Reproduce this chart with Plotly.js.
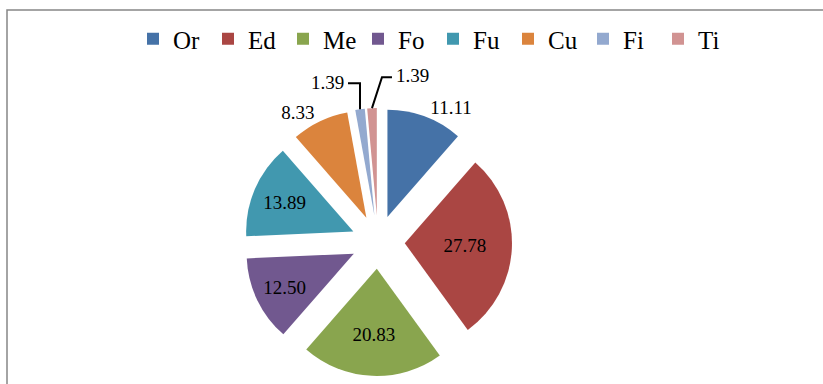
<!DOCTYPE html>
<html>
<head>
<meta charset="utf-8">
<script src="https://cdn.plot.ly/plotly-3.0.1.min.js"></script>
<style>
html,body{margin:0;padding:0;background:#fff;}
#chart{width:823px;height:384px;}
</style>
</head>
<body>
<div id="chart"></div>
<script>
var categories = ['Or', 'Ed', 'Me', 'Fo', 'Fu', 'Cu', 'Fi', 'Ti'];
var values = [11.11, 27.78, 20.83, 12.50, 13.89, 8.33, 1.39, 1.39];
var colors = ['#4572A7', '#AA4643', '#89A54E', '#71588F', '#4198AF', '#DB843D', '#93A9CF', '#D19392'];
var textPositions = ['outside', 'inside', 'inside', 'inside', 'inside', 'outside', 'none', 'none'];

var W = 823, H = 384;
var dom = {x0: 244, x1: 512, y0: 108, y1: 376};
var PULL = 0.25;
var FONT = 'Liberation Serif';
var LABEL_SIZE = 19;

var trace = {
  type: 'pie',
  labels: categories,
  values: values,
  sort: false,
  direction: 'clockwise',
  rotation: 0,
  pull: categories.map(function () { return PULL; }),
  marker: {colors: colors, line: {width: 0}},
  texttemplate: '%{value:.2f}',
  textposition: textPositions,
  insidetextorientation: 'horizontal',
  textfont: {family: FONT, size: LABEL_SIZE, color: '#000'},
  insidetextfont: {family: FONT, size: LABEL_SIZE, color: '#000'},
  outsidetextfont: {family: FONT, size: LABEL_SIZE, color: '#000'},
  hoverinfo: 'label+value',
  domain: {x: [dom.x0 / W, dom.x1 / W], y: [1 - dom.y1 / H, 1 - dom.y0 / H]}
};

// pie geometry (derived from the domain) to anchor the small-slice labels
var cx = (dom.x0 + dom.x1) / 2, cy = (dom.y0 + dom.y1) / 2;
var R = Math.min(dom.x1 - dom.x0, dom.y1 - dom.y0) / 2;
var total = values.reduce(function (a, b) { return a + b; }, 0);
function tip(i) {
  var before = 0;
  for (var k = 0; k < i; k++) before += values[k];
  var a = (before + values[i] / 2) / total * 2 * Math.PI;
  return {x: cx + R * Math.sin(a), y: cy - R * Math.cos(a)};
}
function px(x) { return x / W; }
function py(y) { return 1 - y / H; }

var iFi = categories.indexOf('Fi'), iTi = categories.indexOf('Ti');
var tFi = tip(iFi), tTi = tip(iTi);

var annotations = [
  {text: values[iFi].toFixed(2), x: px(tFi.x - 14), y: py(tFi.y - 27), xref: 'paper', yref: 'paper',
   xanchor: 'right', yanchor: 'middle', showarrow: false, font: {family: FONT, size: LABEL_SIZE, color: '#000'}},
  {text: values[iTi].toFixed(2), x: px(tTi.x + 22), y: py(tTi.y - 33), xref: 'paper', yref: 'paper',
   xanchor: 'left', yanchor: 'middle', showarrow: false, font: {family: FONT, size: LABEL_SIZE, color: '#000'}}
];

function path(pts) {
  return 'M' + pts.map(function (p) { return px(p[0]) + ',' + py(p[1]); }).join(' L');
}

var shapes = [
  {type: 'rect', xref: 'paper', yref: 'paper',
   x0: 7 / W, x1: 1.2, y0: -0.2, y1: 1 - 10 / H,
   line: {color: '#868686', width: 1.5}, fillcolor: 'rgba(0,0,0,0)'},
  {type: 'path', xref: 'paper', yref: 'paper',
   path: path([[tFi.x - 12, tFi.y - 26], [tFi.x, tFi.y - 26], [tFi.x, tFi.y]]),
   line: {color: '#000', width: 2}},
  {type: 'path', xref: 'paper', yref: 'paper',
   path: path([[tTi.x + 20, tTi.y - 31], [tTi.x + 10, tTi.y - 31], [tTi.x, tTi.y]]),
   line: {color: '#000', width: 2}}
];

var layout = {
  width: W,
  height: H,
  margin: {l: 0, r: 0, t: 0, b: 0},
  paper_bgcolor: '#fff',
  font: {family: FONT, color: '#000'},
  showlegend: true,
  legend: {
    orientation: 'h',
    x: 133 / W,
    xanchor: 'left',
    y: 1 - 39 / H,
    yanchor: 'middle',
    font: {family: FONT, size: 25, color: '#000'},
    entrywidth: 30,
    entrywidthmode: 'pixels',
    traceorder: 'normal'
  },
  annotations: annotations,
  shapes: shapes
};

Plotly.newPlot('chart', [trace], layout, {displayModeBar: false, staticPlot: true});
</script>
</body>
</html>
